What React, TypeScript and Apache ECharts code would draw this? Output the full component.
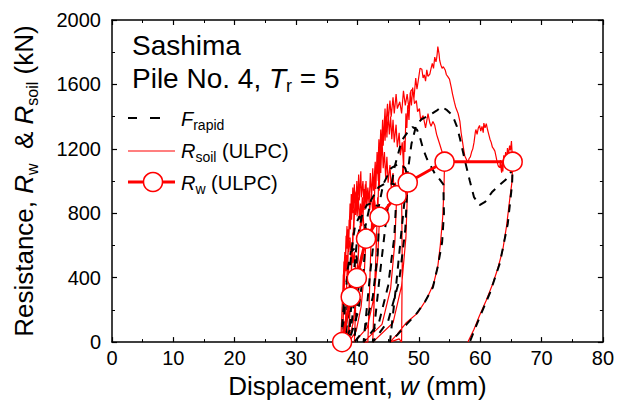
import React, { useEffect, useRef } from "react";
import * as echarts from "echarts";

// Displacement (mm), force (kN) pairs
const fRapid: [number, number][] = [
  [37.3, 0], [37.6, 150], [37.9, 300], [38.3, 400], [38.7, 420], [38.9, 380], [38.6, 200], [38.1, 50], [37.6, 0],
  [38.0, 250], [38.4, 450], [38.9, 560], [39.5, 580], [39.9, 520], [39.6, 300], [39.0, 100], [38.0, 0],
  [38.5, 300], [39.0, 560], [39.6, 720], [40.3, 780], [41.0, 760], [41.4, 700], [41.0, 450], [40.2, 200], [38.6, 0],
  [39.2, 350], [39.9, 620], [40.7, 780], [41.5, 850], [42.6, 870], [43.6, 830], [43.3, 550], [42.5, 280], [41.2, 80], [39.5, 0],
  [40.3, 400], [41.2, 700], [42.2, 880], [43.4, 960], [44.8, 990], [46.0, 980], [46.4, 940], [46.0, 650], [45.0, 350], [43.5, 120], [41.0, 0],
  [42.0, 400], [43.0, 750], [44.2, 980], [45.5, 1080], [46.8, 1110], [47.8, 1080], [48.2, 1020], [47.8, 700], [46.8, 380], [45.0, 130], [42.5, 0],
  [43.6, 400], [44.8, 800], [46.0, 1080], [47.2, 1250], [48.3, 1310], [49.0, 1335], [49.7, 1320], [50.2, 1270], [50.7, 1200], [51.3, 1140],
  [52.0, 1090], [52.7, 1040], [53.4, 1010], [54.0, 980], [54.1, 800], [53.8, 620], [53.1, 471], [52.3, 340], [51.0, 250], [49.5, 170],
  [48.0, 110], [46.5, 45], [45.3, 0],
  [46.3, 350], [47.2, 700], [48.0, 1000], [48.8, 1230], [49.6, 1350], [50.5, 1385], [51.3, 1400], [52.2, 1420], [52.9, 1437], [53.7, 1462],
  [54.6, 1440], [55.5, 1407], [56.2, 1340], [56.7, 1266], [57.5, 1130], [58.3, 1003], [59.0, 900], [59.9, 850], [60.8, 870], [61.9, 930],
  [63.0, 970], [64.2, 1010], [65.1, 1060], [65.3, 1090], [65.2, 980], [64.5, 734], [63.2, 489], [61.6, 306], [59.9, 153], [58.3, 0],
];

const rSoil: [number, number][] = [
  // cycle 1
  [37.3, 0], [37.4, 120], [37.35, 60], [37.5, 220], [37.45, 150], [37.6, 320], [37.55, 230], [37.7, 420], [37.65, 330], [37.8, 500],
  [37.75, 390], [37.95, 560], [37.9, 430], [38.1, 580], [38.15, 440], [38.3, 540], [38.4, 400], [38.55, 480], [38.65, 340], [38.8, 380],
  [38.9, 281], [38.75, 170], [38.5, 80], [38.1, 20], [37.6, 0],
  // cycle 2
  [37.7, 160], [37.65, 90], [37.8, 300], [37.75, 210], [37.9, 420], [37.85, 320], [38.0, 540], [37.95, 430], [38.15, 660], [38.1, 540],
  [38.3, 720], [38.35, 580], [38.5, 700], [38.6, 560], [38.8, 650], [38.95, 520], [39.1, 620], [39.3, 490], [39.5, 560], [39.7, 450],
  [39.9, 397], [39.7, 260], [39.3, 120], [38.7, 30], [38.0, 0],
  // cycle 3
  [38.1, 180], [38.05, 100], [38.2, 340], [38.15, 240], [38.35, 480], [38.3, 380], [38.5, 620], [38.45, 500], [38.65, 760], [38.6, 640],
  [38.8, 860], [38.85, 700], [39.0, 920], [39.05, 760], [39.25, 960], [39.3, 800], [39.5, 980], [39.6, 820], [39.8, 940], [39.95, 780],
  [40.15, 900], [40.3, 760], [40.5, 860], [40.7, 720], [40.9, 800], [41.1, 690], [41.4, 642], [41.1, 420], [40.6, 220], [39.8, 70], [38.6, 0],
  // cycle 4
  [38.75, 200], [38.7, 110], [38.9, 360], [38.85, 260], [39.05, 520], [39.0, 400], [39.25, 680], [39.2, 560], [39.45, 820], [39.4, 690],
  [39.65, 930], [39.7, 790], [39.9, 1000], [40.0, 840], [40.2, 1040], [40.3, 880], [40.55, 1060], [40.65, 900], [40.9, 1000], [41.05, 860],
  [41.3, 980], [41.5, 840], [41.75, 940], [42.0, 820], [42.25, 920], [42.5, 800], [42.8, 880], [43.1, 790], [43.35, 840], [43.6, 777],
  [43.3, 520], [42.7, 280], [41.6, 90], [39.5, 0],
  // cycle 5
  [39.7, 200], [39.6, 120], [39.8, 330], [39.7, 250], [40.0, 480], [39.9, 380], [40.2, 600], [40.1, 500], [40.4, 720], [40.3, 610],
  [40.6, 820], [40.5, 700], [40.8, 900], [40.9, 760], [41.1, 950], [41.2, 820], [41.4, 1000], [41.5, 870], [41.7, 960], [41.9, 850],
  [42.1, 1050], [42.3, 900], [42.5, 1080], [42.6, 940], [42.9, 1120], [43.0, 980], [43.2, 1150], [43.4, 1000], [43.6, 1220], [43.8, 1050],
  [44.0, 1266], [44.2, 1080], [44.4, 1180], [44.6, 1020], [44.8, 1150], [45.0, 990], [45.3, 1100], [45.5, 960], [45.8, 1050], [46.0, 930],
  [46.2, 990], [46.4, 911], [46.1, 620], [45.4, 330], [44.0, 110], [41.0, 0],
  // cycle 6
  [41.7, 0], [42.0, 350], [42.3, 740], [42.4, 620], [42.6, 900], [42.7, 780], [42.9, 1080], [43.0, 950], [43.2, 1180], [43.3, 1040],
  [43.5, 1260], [43.6, 1120], [43.8, 1320], [43.9, 1180], [44.1, 1360], [44.2, 1220], [44.4, 1390], [44.5, 1250], [44.7, 1400], [44.8, 1270],
  [45.0, 1419], [45.2, 1290], [45.4, 1400], [45.6, 1260], [45.8, 1380], [46.0, 1240], [46.3, 1350], [46.5, 1210], [46.8, 1300], [47.0, 1160],
  [47.3, 1240], [47.5, 1100], [47.8, 1080], [48.0, 1030], [48.2, 991], [47.9, 650], [47.2, 350], [45.8, 120], [42.5, 0],
  // cycle 7
  [42.7, 250], [42.65, 160], [42.9, 450], [42.85, 330], [43.1, 680], [43.05, 560], [43.3, 900], [43.3, 760], [43.5, 1080], [43.55, 940],
  [43.8, 1250], [43.85, 1100], [44.1, 1380], [44.2, 1230], [44.5, 1450], [44.6, 1320], [44.9, 1480], [45.0, 1360], [45.3, 1500], [45.5, 1400],
  [45.8, 1520], [46.0, 1420], [46.3, 1540], [46.5, 1450], [46.9, 1492], [47.2, 1420], [47.5, 1560], [47.8, 1470], [48.1, 1540], [48.4, 1450],
  [48.7, 1560], [49.0, 1572], [49.3, 1480], [49.6, 1500], [49.8, 1430], [50.1, 1450], [50.3, 1380], [50.7, 1407], [51.1, 1330], [51.5, 1419],
  [51.8, 1360], [52.0, 1340], [52.3, 1370], [52.6, 1346], [52.9, 1290], [53.1, 1266], [53.4, 1230], [53.7, 1193], [54.2, 1120], [54.1, 950],
  [53.9, 777], [53.5, 600], [53.1, 471], [52.4, 360], [51.3, 269], [49.8, 180], [48.0, 122], [46.5, 50], [45.3, 0],
  // cycle 8
  [46.8, 20], [47.2, 0], [47.3, 500], [47.2, 917], [47.4, 1100], [47.5, 1020], [47.6, 1250], [47.75, 1180], [47.9, 1420], [48.05, 1330],
  [48.2, 1470], [48.4, 1380], [48.6, 1550], [48.8, 1470], [49.0, 1580], [49.2, 1510], [49.5, 1640], [49.7, 1570], [49.9, 1620], [50.2, 1700],
  [50.5, 1694], [50.7, 1640], [50.9, 1660], [51.1, 1620], [51.3, 1690], [51.5, 1650], [51.8, 1664], [52.0, 1700], [52.2, 1730], [52.4, 1700],
  [52.6, 1770], [52.8, 1740], [52.9, 1760], [53.0, 1790], [53.1, 1835], [53.3, 1790], [53.4, 1750], [53.6, 1720], [53.8, 1700], [54.0, 1710],
  [54.3, 1690], [54.5, 1660], [54.7, 1650], [55.0, 1633], [55.3, 1580], [55.5, 1540], [55.8, 1490], [56.0, 1460], [56.2, 1440], [56.4, 1420],
  [56.7, 1370], [56.9, 1300], [57.1, 1250], [57.3, 1200], [57.5, 1156], [57.8, 1131], [58.0, 1113], [58.2, 1140], [58.4, 1150], [58.6, 1180],
  [58.8, 1200], [59.0, 1240], [59.2, 1300], [59.3, 1320], [59.5, 1290], [59.7, 1330], [59.9, 1345], [60.1, 1310], [60.3, 1340], [60.5, 1300],
  [60.6, 1360], [60.8, 1330], [61.0, 1357], [61.2, 1320], [61.4, 1290], [61.6, 1260], [61.8, 1240], [62.0, 1210], [62.2, 1200], [62.4, 1186],
  [62.6, 1150], [62.7, 1130], [62.9, 1100], [63.0, 1090], [63.2, 1083], [63.3, 1130], [63.4, 1080], [63.5, 1052], [63.6, 1120], [63.7, 1060],
  [63.85, 1160], [64.0, 1110], [64.15, 1180], [64.3, 1120], [64.45, 1205], [64.6, 1160], [64.8, 1220], [64.95, 1190], [65.1, 1248], [65.2, 1180],
  [65.3, 1120], [65.2, 1000], [64.8, 881], [64.3, 720], [63.7, 575], [62.9, 460], [62.1, 367], [61.0, 260], [59.9, 165], [59.0, 80], [58.0, 0],
];

const rW: [number, number][] = [
  [37.5, 0], [38.9, 281], [39.9, 397], [41.4, 642], [43.6, 777], [46.4, 911], [48.2, 991], [54.2, 1120], [65.3, 1120],
];

const FONT = "Liberation Sans";

export default function App() {
  const ref = useRef<HTMLDivElement>(null);
  useEffect(() => {
    const chart = echarts.init(ref.current as HTMLDivElement, null, { renderer: "svg" });
    const axisLine = { onZero: false, lineStyle: { color: "#000", width: 1.5 } };
    const axisTick = { inside: true, length: 5, lineStyle: { color: "#000", width: 1.2 } };
    const minorTick = { show: true, splitNumber: 2, length: 3, lineStyle: { color: "#000", width: 1 } };
    const label = { color: "#000", fontSize: 20, fontFamily: FONT, formatter: (v: number) => String(v) };
    const subRich = { fontSize: 16, fontFamily: FONT, color: "#000", lineHeight: 16, verticalAlign: "bottom" };
    chart.setOption({
      animation: false,
      backgroundColor: "#fff",
      grid: { left: 112, right: 14, top: 20, bottom: 57, containLabel: false },
      xAxis: [
        {
          type: "value", min: 0, max: 80, interval: 10, position: "bottom",
          axisLine, axisTick, minorTick, splitLine: { show: false }, minorSplitLine: { show: false },
          axisLabel: { ...label, margin: 6 },
          name: "{n|Displacement, }{i|w}{n| (mm)}",
          nameLocation: "middle", nameGap: 27,
          nameTextStyle: {
            rich: {
              n: { fontSize: 26, fontFamily: FONT, color: "#000" },
              i: { fontSize: 26, fontFamily: FONT, color: "#000", fontStyle: "italic" },
            },
          },
        },
        {
          type: "value", min: 0, max: 80, interval: 10, position: "top",
          axisLine, axisTick, minorTick, splitLine: { show: false }, axisLabel: { show: false },
        },
      ],
      yAxis: [
        {
          type: "value", min: 0, max: 2000, interval: 400, position: "left",
          axisLine, axisTick, minorTick, splitLine: { show: false }, minorSplitLine: { show: false },
          axisLabel: { ...label, margin: 11 },
          name: "{n|Resistance, }{i|R}{s|w}{n|  & }{i|R}{s|soil}{n| (kN)}",
          nameLocation: "middle", nameGap: 72, nameRotate: 90,
          nameTextStyle: {
            rich: {
              n: { fontSize: 26, fontFamily: FONT, color: "#000", lineHeight: 32 },
              i: { fontSize: 26, fontFamily: FONT, color: "#000", fontStyle: "italic", lineHeight: 32 },
              s: subRich,
            },
          },
        },
        {
          type: "value", min: 0, max: 2000, interval: 400, position: "right",
          axisLine, axisTick, minorTick, splitLine: { show: false }, axisLabel: { show: false },
        },
      ],
      series: [
        {
          name: "R_soil (ULPC)", type: "line", data: rSoil, showSymbol: false, symbol: "none",
          lineStyle: { color: "#ff0000", width: 1.2 }, z: 2,
        },
        {
          name: "F_rapid", type: "line", data: fRapid, showSymbol: false, symbol: "none",
          lineStyle: { color: "#000", width: 2, type: [8, 7] }, z: 3,
        },
        {
          name: "R_w (ULPC)", type: "line", data: rW, symbol: "circle", symbolSize: 19,
          lineStyle: { color: "#ff0000", width: 3 },
          itemStyle: { color: "#fff", borderColor: "#ff0000", borderWidth: 1.5 }, z: 4,
        },
      ],
      graphic: [
        { type: "text", x: 132, y: 45, style: { text: "Sashima", fontSize: 28, fontFamily: FONT, fill: "#000", verticalAlign: "middle" } },
        {
          type: "text", x: 132, y: 78,
          style: {
            text: "{a|Pile No. 4, }{i|T}{s|r}{a| = 5}", verticalAlign: "middle",
            rich: {
              a: { fontSize: 28, fontFamily: FONT, fill: "#000", lineHeight: 34 },
              i: { fontSize: 28, fontFamily: FONT, fill: "#000", fontStyle: "italic", lineHeight: 34 },
              s: { fontSize: 18, fontFamily: FONT, fill: "#000", lineHeight: 18, verticalAlign: "bottom" },
            },
          },
        },
        { type: "line", shape: { x1: 128, y1: 118, x2: 137, y2: 118 }, style: { stroke: "#000", lineWidth: 2 } },
        { type: "line", shape: { x1: 150, y1: 118, x2: 160, y2: 118 }, style: { stroke: "#000", lineWidth: 2 } },
        { type: "line", shape: { x1: 128, y1: 151, x2: 175, y2: 151 }, style: { stroke: "#ff0000", lineWidth: 1.2 } },
        { type: "line", shape: { x1: 128, y1: 182, x2: 175, y2: 182 }, style: { stroke: "#ff0000", lineWidth: 3 } },
        { type: "circle", shape: { cx: 153, cy: 182, r: 9.5 }, style: { fill: "#fff", stroke: "#ff0000", lineWidth: 1.5 } },
        {
          type: "text", x: 181, y: 119,
          style: {
            text: "{i|F}{s|rapid}", verticalAlign: "middle",
            rich: {
              i: { fontSize: 20, fontFamily: FONT, fill: "#000", fontStyle: "italic", lineHeight: 26 },
              s: { fontSize: 14, fontFamily: FONT, fill: "#000", lineHeight: 14, verticalAlign: "bottom" },
            },
          },
        },
        {
          type: "text", x: 181, y: 151,
          style: {
            text: "{i|R}{s|soil}{n| (ULPC)}", verticalAlign: "middle",
            rich: {
              n: { fontSize: 20, fontFamily: FONT, fill: "#000", lineHeight: 26 },
              i: { fontSize: 20, fontFamily: FONT, fill: "#000", fontStyle: "italic", lineHeight: 26 },
              s: { fontSize: 14, fontFamily: FONT, fill: "#000", lineHeight: 14, verticalAlign: "bottom" },
            },
          },
        },
        {
          type: "text", x: 181, y: 183,
          style: {
            text: "{i|R}{s|w}{n| (ULPC)}", verticalAlign: "middle",
            rich: {
              n: { fontSize: 20, fontFamily: FONT, fill: "#000", lineHeight: 26 },
              i: { fontSize: 20, fontFamily: FONT, fill: "#000", fontStyle: "italic", lineHeight: 26 },
              s: { fontSize: 14, fontFamily: FONT, fill: "#000", lineHeight: 14, verticalAlign: "bottom" },
            },
          },
        },
      ],
    });
    return () => chart.dispose();
  }, []);
  return (
    <div
      ref={ref}
      style={{ position: "fixed", left: 0, top: 0, width: 617, height: 404, background: "#fff" }}
    />
  );
}
